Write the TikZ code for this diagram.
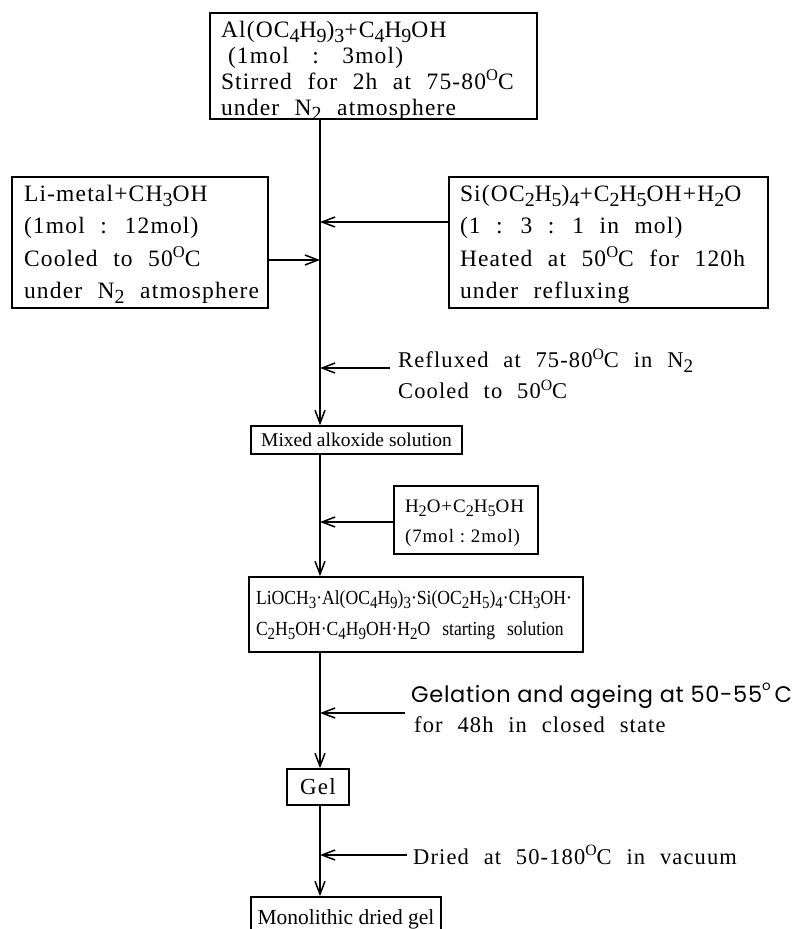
\documentclass[tikz,border=0pt]{standalone}
\usepackage{graphicx}
\usepackage{fontspec}
\setmainfont{Liberation Serif}[LetterSpace=5,WordSpace=2.2]
\newfontfamily\tightserif{Liberation Serif}
\newfontfamily\narrowserif{Liberation Serif}[FakeStretch=0.88]
\newfontfamily\gothic{Poppins}[LetterSpace=3]
\usetikzlibrary{arrows.meta}
\newcommand*{\sbs}[1]{\raisebox{-0.45ex}{\scalebox{0.85}{#1}}}
\newcommand*{\dgc}{\raisebox{0.8ex}{\scalebox{0.7}{O}}C}
\newcommand*{\btext}[3]{\raisebox{#1}[0pt][0pt]{\parbox[c]{#2}{\raggedright#3}}}

\begin{document}
\begin{tikzpicture}[x=1pt,y=-1pt,
  box/.style={draw,line width=1.5pt,inner sep=0pt,align=center},
  flow/.style={line width=1.5pt,-{Straight Barb[length=13pt,width=10pt,line width=1.5pt]}},
  note/.style={anchor=west,inner sep=0pt,align=left,font=\fontsize{22.5}{31}\selectfont}]
 \useasboundingbox (0,0) rectangle (801,929);

 \coordinate (j1) at (320,222);
 \coordinate (j2) at (320,260);
 \coordinate (j3) at (320,368);
 \coordinate (j4) at (320,522);
 \coordinate (j5) at (320,713);
 \coordinate (j6) at (320,855);

 \coordinate (r3) at (390,368);
 \coordinate (r5) at (405,713);
 \coordinate (r6) at (407,855);

\node [box,minimum width=327pt,minimum height=106pt,font=\fontsize{23.5}{26}\selectfont] (top) at (373.5,66)
  {\btext{-11pt}{305pt}{Al(OC\sbs4H\sbs9)\sbs3+C\sbs4H\sbs9OH\\
   \hspace*{7pt}(1mol\quad:\quad3mol)\\
   \mbox{Stirred for 2h at 75-80\dgc}\\
   under N\sbs2 atmosphere}};

\node [box,minimum width=256pt,minimum height=131pt,font=\fontsize{23.5}{32.5}\selectfont] (li) at (140,242.5)
  {\btext{-8pt}{232pt}{Li-metal+CH\sbs3OH\\
   (1mol : 12mol)\\
   Cooled to 50\dgc\\
   \mbox{under N\sbs2 atmosphere}}};

\node [box,minimum width=319pt,minimum height=131pt,font=\fontsize{23.5}{32.5}\selectfont] (si) at (608.5,242.5)
  {\btext{-8pt}{297pt}{Si(OC\sbs2H\sbs5)\sbs4+C\sbs2H\sbs5OH+H\sbs2O\\
   (1 : 3 : 1 in mol)\\
   \mbox{Heated at 50\dgc{} for 120h}\\
   under refluxing}};

\node [box,minimum width=211pt,minimum height=28pt,font=\tightserif\fontsize{19.5}{24}\selectfont] (mix) at (356.5,440)
  {Mixed alkoxide solution};

\node [box,minimum width=144pt,minimum height=68pt,font=\fontsize{19}{30}\selectfont] (water) at (466,520)
  {\btext{-8pt}{122pt}{\mbox{H\sbs2O+C\sbs2H\sbs5OH}\\
   \mbox{(7mol\hspace{0.3em}:\hspace{0.3em}2mol)}}};

\node [box,minimum width=334pt,minimum height=75pt,font=\narrowserif\fontsize{20}{31}\selectfont] (start) at (416,614.5)
  {\btext{-6pt}{320pt}{\mbox{LiOCH\sbs3·Al(OC\sbs4H\sbs9)\sbs3·Si(OC\sbs2H\sbs5)\sbs4·CH\sbs3OH·}\\
   \mbox{C\sbs2H\sbs5OH·C\sbs4H\sbs9OH·H\sbs2O\hspace{12pt}starting\hspace{12pt}solution}}};

\node [box,minimum width=62pt,minimum height=36pt,font=\fontsize{23}{25}\selectfont] (gel) at (318,787) {Gel};

\node [box,minimum width=190pt,minimum height=44pt,font=\tightserif\fontsize{21.5}{25}\selectfont] (mono) at (346,919)
  {Monolithic dried gel};

\node [note] (t3) at (398,374)
  {Refluxed at 75-80\dgc{} in N\sbs2\\
   Cooled to 50\dgc};
\node [note,anchor=base west,font=\gothic\fontsize{22.5}{30}\selectfont] (t5a) at (411,702)
  {Gelation and ageing at 50-55\raisebox{0.9ex}{\scalebox{0.6}{o}}\,C};
\node [note,anchor=base west] (t5b) at (414,732) {for 48h in closed state};
\node [note] (t6) at (413,855) {Dried at 50-180\dgc{} in vacuum};

\draw[flow] (top.south -| j1) -- (mix.north -| j1);
\draw[flow] (si.west |- j1) -- (j1);
\draw[flow] (li.east |- j2) -- (j2);
\draw[flow] (r3) -- (j3);
\draw[flow] (mix.south -| j4) -- (start.north -| j4);
\draw[flow] (water.west |- j4) -- (j4);
\draw[flow] (start.south -| j5) -- (gel.north -| j5);
\draw[flow] (r5) -- (j5);
\draw[flow] (gel.south -| j6) -- (mono.north -| j6);
\draw[flow] (r6) -- (j6);

\end{tikzpicture}
\end{document}
